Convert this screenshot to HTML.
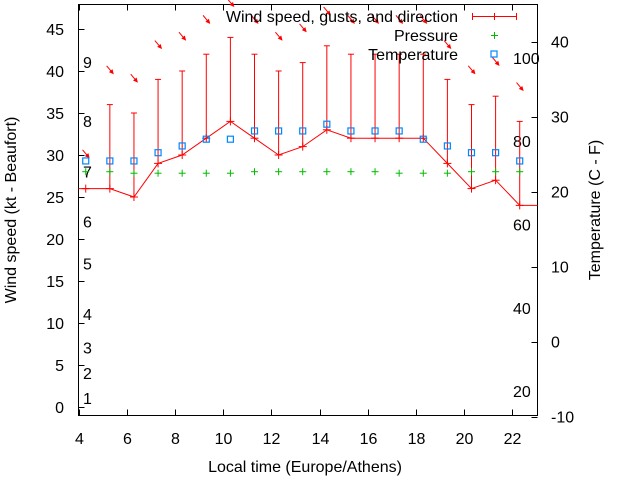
<!DOCTYPE html>
<html><head><meta charset="utf-8"><style>
html,body{margin:0;padding:0;background:#fff}
svg{display:block;font-family:"Liberation Sans",sans-serif;font-size:16px}
</style></head><body>
<svg id="chart" width="640" height="480" viewBox="0 0 640 480">
<g id="axes"></g>
<g id="marks"></g>
<text x="16" y="210" transform="rotate(-90 16 210)" text-anchor="middle">Wind speed (kt - Beaufort)</text>
<text x="600" y="210" transform="rotate(-90 600 210)" text-anchor="middle">Temperature (C - F)</text>
<text x="305" y="472" text-anchor="middle">Local time (Europe/Athens)</text>
<g>
<text x="458" y="22" text-anchor="end">Wind speed, gusts, and direction</text>
<g stroke="#f00" stroke-width="1">
<line x1="472" y1="16.5" x2="517" y2="16.5"/><line x1="472.5" y1="13" x2="472.5" y2="20"/><line x1="516.5" y1="13" x2="516.5" y2="20"/><line x1="494.5" y1="13" x2="494.5" y2="20"/></g>
<text x="458" y="41" text-anchor="end">Pressure</text>
<g stroke="#0b0"><line x1="491" y1="35.5" x2="498" y2="35.5"/><line x1="494.5" y1="32" x2="494.5" y2="39"/></g>
<text x="458" y="60" text-anchor="end">Temperature</text>
<rect x="491" y="51" width="6" height="6" fill="none" stroke="#08f" stroke-width="1.2"/>
</g>
</svg>
<script>
const hours=[4.3,5.3,6.3,7.3,8.3,9.3,10.3,11.3,12.3,13.3,14.3,15.3,16.3,17.3,18.3,19.3,20.3,21.3,22.3];
const wind=[26,26,25,29,30,32,34,32,30,31,33,32,32,32,32,29,26,27,24];
const gusts=[26,36,35,39,40,42,44,42,40,41,43,42,42,42,42,39,36,37,34];
const direction=[315,315,315,315,315,315,315,315,315,315,315,315,315,315,315,315,315,315,315];
const tempC=[24.1,24.1,24.1,25.2,26.1,27.0,27.0,28.1,28.1,28.1,29.0,28.1,28.1,28.1,27.0,26.1,25.2,25.2,24.1];
const pressure=[1014,1014,1013.7,1013.7,1013.7,1013.7,1013.7,1014,1014,1014,1014,1014,1014,1013.7,1013.7,1013.7,1014,1014,1014];
const xTicks=[4,6,8,10,12,14,16,18,20,22];
const yTicks=[0,5,10,15,20,25,30,35,40,45];
const y2Ticks=[-10,0,10,20,30,40];
const fTicks=[20,40,60,80,100];
const beaufortLabels=[1,2,3,4,5,6,7,8,9];
const beaufortKt=[1,4,7,11,17,22,28,34,41];

const L=78.5,R=537.5,T=4.5,B=415.5;
const X=v=>78.5+(v-4)*24.11;
const Y=v=>407-v*8.4;
const Y2=c=>341.7-c*7.5;
const YP=p=>171.7+(1014-p)*5;
const NS='http://www.w3.org/2000/svg';
function mk(tag,attrs,parent,text){const e=document.createElementNS(NS,tag);for(const k in attrs)e.setAttribute(k,attrs[k]);if(text!==undefined)e.textContent=text;parent.appendChild(e);return e;}
const axes=document.getElementById('axes'),marks=document.getElementById('marks');
const frame=mk('rect',{x:L,y:T,width:R-L,height:B-T,fill:'none',stroke:'#000'},axes);


xTicks.forEach(t=>{const x=Math.round(X(t))+0.5;
 mk('line',{x1:x,y1:B,x2:x,y2:B-6,stroke:'#000'},axes);mk('line',{x1:x,y1:T,x2:x,y2:T+6,stroke:'#000'},axes);
 const tx=mk('text',{x:x,y:444,'text-anchor':'middle'},axes,String(t));
 
 });
yTicks.forEach(t=>{const y=Math.round(Y(t))+0.5;
 mk('line',{x1:L,y1:y,x2:L+6,y2:y,stroke:'#000'},axes);
 const tx=mk('text',{x:64,y:y+5.5,'text-anchor':'end'},axes,String(t));
 
 });
y2Ticks.forEach(t=>{const y=Math.round(Y2(t))+0.5;
 mk('line',{x1:R,y1:y,x2:R-6,y2:y,stroke:'#000'},axes);
 const tx=mk('text',{x:551,y:y+5,'text-anchor':'start'},axes,String(t));
 
 });
beaufortLabels.forEach((b,i)=>{const tx=mk('text',{x:83,y:Y(beaufortKt[i])+5.5},axes,String(b));
 
 });
fTicks.forEach(f=>{const c=(f-32)*5/9;const tx=mk('text',{x:513,y:Y2(c)+5.5},axes,String(f));
 
 });
let pts=[[L,Y(wind[0])]];hours.forEach((h,i)=>pts.push([X(h),Y(wind[i])]));pts.push([R,Y(wind[wind.length-1])]);
const wl=mk('polyline',{points:pts.map(p=>p.join(',')).join(' '),fill:'none',stroke:'#f00'},marks);


hours.forEach((h,i)=>{const x=X(h),y=Y(wind[i]),g=Y(gusts[i]);
 const eb=mk('g',{stroke:'#f00'},marks);
 
 
 mk('line',{x1:x,y1:y,x2:x,y2:g},eb);mk('line',{x1:x-3,y1:g,x2:x+3,y2:g},eb);
 mk('line',{x1:x-4,y1:y,x2:x+4,y2:y},eb);mk('line',{x1:x,y1:y-4,x2:x,y2:y+4},eb);
 const ay=g-35,a=(direction[i]+180-90+5)*Math.PI/180;
 const dx=Math.cos(a)*5,dy=Math.sin(a)*5;
 const ar=mk('g',{stroke:'#f00',fill:'#f00'},marks);
 
 
 const x1=x-dx,y1=ay-dy,x2=x+dx,y2=ay+dy;
 mk('line',{x1:x1,y1:y1,x2:x2,y2:y2},ar);
 const ang=Math.atan2(y2-y1,x2-x1);
 const p1=[x2-3.5*Math.cos(ang-0.45),y2-3.5*Math.sin(ang-0.45)],p2=[x2-3.5*Math.cos(ang+0.45),y2-3.5*Math.sin(ang+0.45)];
 mk('polygon',{points:`${x2},${y2} ${p1} ${p2}`},ar);
 const pp=mk('g',{stroke:'#0b0'},marks);
 
 
 const py=YP(pressure[i]);
 mk('line',{x1:x-3.5,y1:py,x2:x+3.5,y2:py},pp);mk('line',{x1:x,y1:py-3.5,x2:x,y2:py+3.5},pp);
 const tp=mk('rect',{x:x-3,y:Y2(tempC[i])-3,width:6,height:6,fill:'none',stroke:'#08f','stroke-width':1.2},marks);
 
 
});
</script>
</body></html>
